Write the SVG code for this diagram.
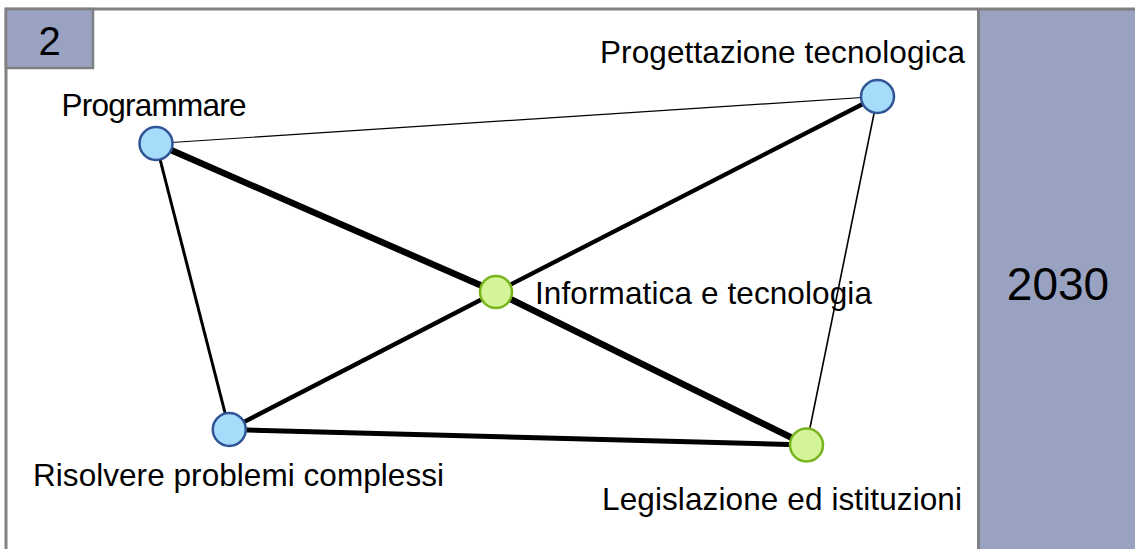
<svg xmlns="http://www.w3.org/2000/svg" width="1135" height="549" viewBox="0 0 1135 549">
<style>
  .lbl { font-family: "Liberation Sans", Arial, sans-serif; font-size: 31.5px; fill: #000; }
  .blue { fill: #a6dcf9; stroke: #2f5597; stroke-width: 2.5; }
  .green { fill: #d3f597; stroke: #78b41e; stroke-width: 2.5; }
  .edge { stroke: #000; fill: none; stroke-linecap: butt; }
</style>
<rect x="0" y="0" width="1135" height="549" fill="#ffffff"/>
<g id="frame">
  <rect x="979" y="9" width="160" height="545" fill="#99a3c1"/>
  <path d="M6,560 V9 H1140" fill="none" stroke="#808080" stroke-width="3"/>
  <line x1="978.5" y1="9" x2="978.5" y2="560" stroke="#808080" stroke-width="3"/>
  <text x="1058" y="300" text-anchor="middle" font-family="Liberation Sans, Arial, sans-serif" font-size="46" fill="#000">2030</text>
</g>
<g id="index-box">
  <rect x="6" y="9" width="87" height="59" fill="#99a3c1" stroke="#808080" stroke-width="2.5"/>
  <text x="49.5" y="55" text-anchor="middle" font-family="Liberation Sans, Arial, sans-serif" font-size="40" fill="#000">2</text>
</g>
<g id="connectors">
  <line class="edge" x1="156" y1="143.5" x2="877.5" y2="96.5" stroke-width="1.2"/>
  <line class="edge" x1="156" y1="143.5" x2="496" y2="292" stroke-width="6.5"/>
  <line class="edge" x1="496" y1="292" x2="806.5" y2="445" stroke-width="6.5"/>
  <line class="edge" x1="229.3" y1="429.5" x2="496" y2="292" stroke-width="4.3"/>
  <line class="edge" x1="496" y1="292" x2="877.5" y2="96.5" stroke-width="4.3"/>
  <line class="edge" x1="156" y1="143.5" x2="229.3" y2="429.5" stroke-width="3"/>
  <line class="edge" x1="877.5" y1="96.5" x2="806.5" y2="445" stroke-width="1.6"/>
  <line class="edge" x1="229.3" y1="429.5" x2="806.5" y2="445" stroke-width="5"/>
</g>
<g id="node-programmare">
  <circle class="blue" cx="156" cy="143.5" r="16.5"/>
  <text class="lbl" x="61.5" y="115.5" textLength="185" lengthAdjust="spacing">Programmare</text>
</g>
<g id="node-progettazione">
  <circle class="blue" cx="877.5" cy="96.5" r="16.5"/>
  <text class="lbl" x="600" y="63" textLength="365" lengthAdjust="spacing">Progettazione tecnologica</text>
</g>
<g id="node-informatica">
  <circle class="green" cx="496" cy="292" r="16"/>
  <text class="lbl" x="535" y="303.5" textLength="337" lengthAdjust="spacing">Informatica e tecnologia</text>
</g>
<g id="node-risolvere">
  <circle class="blue" cx="229.3" cy="429.5" r="16.5"/>
  <text class="lbl" x="33" y="486" textLength="411" lengthAdjust="spacing">Risolvere problemi complessi</text>
</g>
<g id="node-legislazione">
  <circle class="green" cx="806.5" cy="445" r="16.5"/>
  <text class="lbl" x="602" y="510" textLength="360" lengthAdjust="spacing">Legislazione ed istituzioni</text>
</g>
</svg>
